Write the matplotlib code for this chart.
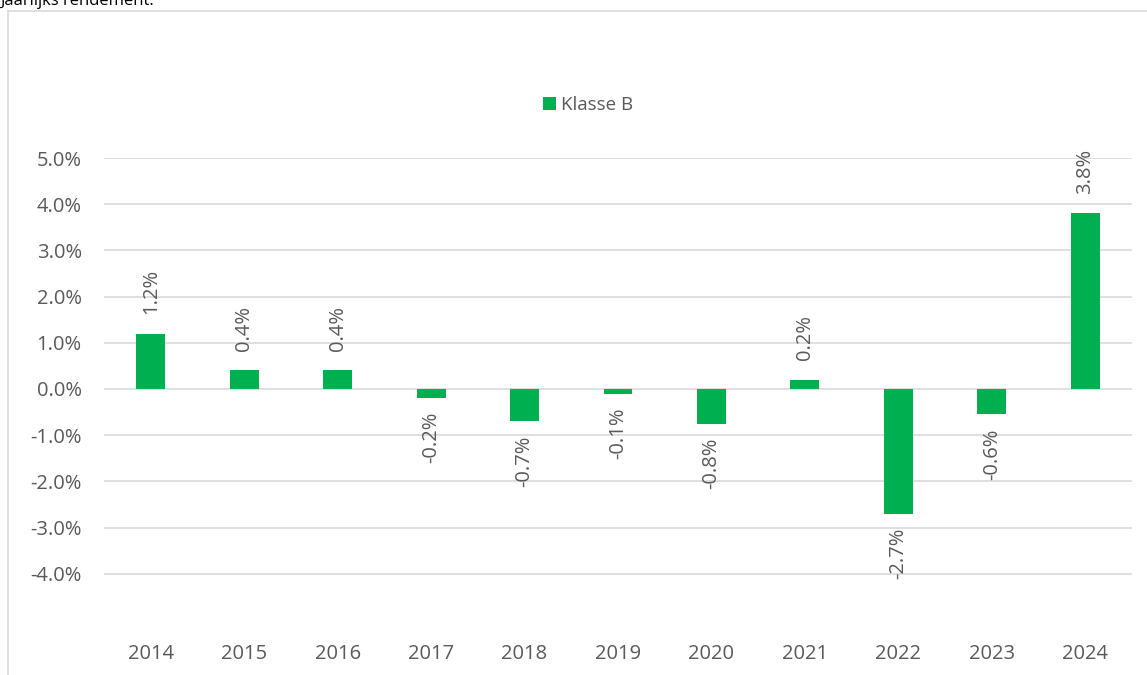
import matplotlib.pyplot as plt
from matplotlib.lines import Line2D

years = ['2014', '2015', '2016', '2017', '2018', '2019', '2020', '2021', '2022', '2023', '2024']
klasse_b = [1.2, 0.4, 0.4, -0.2, -0.7, -0.1, -0.75, 0.2, -2.7, -0.55, 3.8]
labels = ['1.2%', '0.4%', '0.4%', '-0.2%', '-0.7%', '-0.1%', '-0.8%', '0.2%', '-2.7%', '-0.6%', '3.8%']
yticks = [-4, -3, -2, -1, 0, 1, 2, 3, 4, 5]

plt.rcParams['font.family'] = ['Open Sans', 'DejaVu Sans']
txt = '#595959'
green = '#00b050'

fig = plt.figure(figsize=(11.47, 6.75), dpi=100)
W, H = 1147, 675

# outer chart border: only left and top edges are visible
border = '#d9d9d9'
fig.lines.append(Line2D([8 / W, 8 / W], [0, 1 - 11 / H], transform=fig.transFigure,
                        color=border, linewidth=1.2))
fig.lines.append(Line2D([8 / W, 1], [1 - 11 / H, 1 - 11 / H], transform=fig.transFigure,
                        color=border, linewidth=1.2))
fig.text(0.0, 1 - 5 / H, 'Jaarlijks rendement:', fontsize=12, color='black',
         ha='left', va='baseline')

ax = fig.add_axes([104 / W, 1 - 643 / H, (1132 - 104) / W, (643 - 158) / H])
x = range(len(years))
ax.bar(x, klasse_b, width=0.31, color=green, label='Klasse B', zorder=3)

for i, (v, lab) in enumerate(zip(klasse_b, labels)):
    if v >= 0:
        ax.annotate(lab, (i, v), xytext=(0, 14), textcoords='offset points',
                    rotation=90, ha='center', va='bottom', fontsize=14.5, color=txt)
    else:
        ax.annotate(lab, (i, v), xytext=(0, -10), textcoords='offset points',
                    rotation=90, ha='center', va='top', fontsize=14.5, color=txt)

ax.set_xlim(-0.5, len(years) - 0.5)
ax.set_ylim(-5.5, 5.0)
ax.set_yticks(yticks)
ax.set_yticklabels([f'{t:.1f}%' for t in yticks])
ax.set_xticks(list(x))
ax.set_xticklabels(years)
ax.yaxis.grid(True, color='#d9d9d9', linewidth=1.2, zorder=0)
ax.set_axisbelow(True)
for s in ax.spines.values():
    s.set_visible(False)
ax.tick_params(axis='both', length=0, labelsize=14.5, colors=txt)
ax.tick_params(axis='y', pad=16)
ax.tick_params(axis='x', pad=1)

leg = fig.legend(loc='center', bbox_to_anchor=(588 / W, 1 - 105 / H), frameon=False,
                 fontsize=13.5, handlelength=0.7, handleheight=0.7, handletextpad=0.3)
for t in leg.get_texts():
    t.set_color(txt)

fig.savefig('out.png', dpi=100)
